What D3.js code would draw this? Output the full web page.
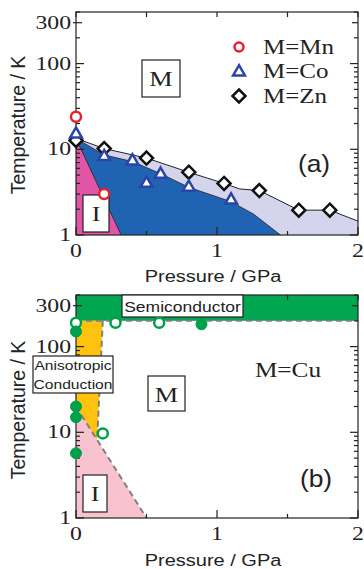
<!DOCTYPE html>
<html><head><meta charset="utf-8">
<script src="https://cdn.jsdelivr.net/npm/d3@7"></script>
<style>body{margin:0;background:#fff} svg{display:block}</style>
</head><body>
<svg id="c" width="364" height="569"></svg>
<script>
// ---------- data ----------
const pressureTicks = [0, 1, 2];
const pressureMinor = [0.5, 1.5];
const tempTickLabels = [1, 10, 100, 300];

// panel (a)
const mnData = [[0, 24], [0.2, 3.0]];
const coData = [[0, 15], [0.2, 8.2], [0.4, 7.3], [0.5, 4.0], [0.6, 5.1], [0.8, 3.6], [1.1, 2.55]];
const znData = [[0, 12.7], [0.2, 10.2], [0.5, 7.9], [0.8, 5.4], [1.05, 4.0], [1.3, 3.3], [1.58, 1.95], [1.8, 1.95]];
const znBoundary = [[0, 13.4], [0.2, 10.2], [0.5, 7.9], [0.8, 5.4], [1.05, 4.0], [1.16, 3.45], [1.3, 3.3], [1.58, 1.95], [1.8, 1.95], [2, 1.45]];
const coBoundary = [[0, 13.4], [0.2, 8.6], [0.4, 7.2], [0.6, 5.2], [0.8, 3.6], [1.1, 2.45], [1.26, 1.75], [1.45, 1]];
const mnBoundary = [[0, 13.4], [0.32, 1]];
const legendLabels = ["M=Mn", "M=Co", "M=Zn"];

// panel (b)
const cuOpen = [[0, 190], [0.28, 190], [0.59, 190], [0.19, 9.7]];
const cuFilled = [[0, 150], [0.89, 182], [0, 20], [0, 15], [0, 5.7]];
const semiconductorBand = [200, 400];
const anisotropicRegion = [[0, 200], [0.19, 200], [0.15, 8.1], [0, 20]];
const insulatorRegionB = [[0, 20], [0.5, 1], [0, 1]];
const anisoBoundary = [[0.19, 200], [0.15, 8.1]];
const insulatorBoundaryB = [[0, 20], [0.5, 1]];

// ---------- drawing ----------
const svg = d3.select("#c");
const SERIF = "'Liberation Serif','Times New Roman',serif";
const SANS = "'Liberation Sans',Arial,sans-serif";
const SX = 1.25;

function txt(g, x, y, s, o = {}) {
  return g.append("text")
    .attr("transform", `translate(${x},${y}) scale(${o.sx ?? SX},1)`)
    .attr("text-anchor", o.anchor || "start")
    .attr("font-family", o.family || SERIF)
    .attr("font-size", o.size || 19)
    .attr("fill", "#222")
    .text(s);
}

function makePanel(top, bottom) {
  const x = d3.scaleLinear().domain([0, 2]).range([76, 358]);
  const y = d3.scaleLog().domain([1, 400]).range([bottom, top]);
  return { x, y, g: svg.append("g") };
}

function frame(p, labelBase, titleBase, yCenter) {
  const { x, y, g } = p;
  const [x0, x1] = x.range();
  const [y0, y1] = y.range(); // bottom, top
  const ax = g.append("g").attr("stroke", "#222").attr("stroke-width", 1.2);
  ax.append("rect").attr("x", x0).attr("y", y1).attr("width", x1 - x0).attr("height", y0 - y1).attr("fill", "none");
  const minor = [];
  [1, 10, 100].forEach(d => { for (let k = 2; k <= 9; k++) if (d * k <= 400) minor.push(d * k); });
  minor.forEach(v => {
    const L = v === 300 ? 6 : 4;
    ax.append("line").attr("x1", x0).attr("x2", x0 + L).attr("y1", y(v)).attr("y2", y(v));
    ax.append("line").attr("x1", x1).attr("x2", x1 - L).attr("y1", y(v)).attr("y2", y(v));
  });
  [1, 10, 100].forEach(v => {
    ax.append("line").attr("x1", x0).attr("x2", x0 + 8).attr("y1", y(v)).attr("y2", y(v));
    ax.append("line").attr("x1", x1).attr("x2", x1 - 8).attr("y1", y(v)).attr("y2", y(v));
  });
  ax.append("line").attr("x1", x0 - 3).attr("x2", x0).attr("y1", y(300)).attr("y2", y(300));
  pressureTicks.forEach(v => {
    ax.append("line").attr("x1", x(v)).attr("x2", x(v)).attr("y1", y0).attr("y2", y0 - 8);
    ax.append("line").attr("x1", x(v)).attr("x2", x(v)).attr("y1", y1).attr("y2", y1 + 5);
  });
  pressureMinor.forEach(v => {
    ax.append("line").attr("x1", x(v)).attr("x2", x(v)).attr("y1", y0).attr("y2", y0 - 4);
    ax.append("line").attr("x1", x(v)).attr("x2", x(v)).attr("y1", y1).attr("y2", y1 + 5);
  });
  tempTickLabels.forEach(v => {
    txt(g, x0 - 5, y(v) + 6, String(v), { anchor: "end", size: 19 });
  });
  pressureTicks.forEach(v => {
    txt(g, x(v), labelBase, String(v), { anchor: "middle", size: 19 });
  });
  txt(g, 213, titleBase, "Pressure / GPa", { anchor: "middle", family: SANS, size: 16 });
  g.append("text")
    .attr("transform", `translate(25,${yCenter}) rotate(-90)`)
    .attr("text-anchor", "middle").attr("font-family", SANS).attr("font-size", 19.5).attr("fill", "#222")
    .text("Temperature / K");
}

function box(g, x0, y0, x1, y1) {
  g.append("rect").attr("x", x0).attr("y", y0).attr("width", x1 - x0).attr("height", y1 - y0)
    .attr("fill", "#fff").attr("stroke", "#222").attr("stroke-width", 1.2);
}

// ===== panel (a) =====
const A = makePanel(12, 235);
{
  const { x, y, g } = A;
  const area = pts => d3.line().x(d => x(d[0])).y(d => y(d[1]))(pts) + "Z";
  g.append("path").attr("d", area([...znBoundary, [2, 1], [0, 1]])).attr("fill", "#d4d4ec");
  g.append("path").attr("d", area([...coBoundary, [0, 1]])).attr("fill", "#2063b2");
  g.append("path").attr("d", area([...mnBoundary, [0, 1]])).attr("fill", "#e055a5");
  g.append("path").attr("d", d3.line().x(d => x(d[0])).y(d => y(d[1]))(znBoundary))
    .attr("fill", "none").attr("stroke", "#222").attr("stroke-width", 1);
  g.append("path").attr("d", d3.line().x(d => x(d[0])).y(d => y(d[1]))(coBoundary))
    .attr("fill", "none").attr("stroke", "#222").attr("stroke-width", 0.8);
  g.append("path").attr("d", d3.line().x(d => x(d[0])).y(d => y(d[1]))(mnBoundary))
    .attr("fill", "none").attr("stroke", "#222").attr("stroke-width", 0.8);
  frame(A, 257, 282, 125);
  box(g, 142, 60, 180, 97);
  txt(g, 161, 86, "M", { anchor: "middle", size: 21 });
  box(g, 83, 195, 109, 232);
  txt(g, 96, 221, "I", { anchor: "middle", size: 21 });
  const tri = d3.symbol().type(d3.symbolTriangle).size(60);
  const dia = "M0,-6.5L6.5,0L0,6.5L-6.5,0Z";
  g.selectAll(".zn").data(znData).join("path").attr("d", dia)
    .attr("transform", d => `translate(${x(d[0])},${y(d[1])})`)
    .attr("fill", "#fff").attr("stroke", "#111").attr("stroke-width", 2.5);
  g.selectAll(".co").data(coData).join("path").attr("d", tri)
    .attr("transform", d => `translate(${x(d[0])},${y(d[1])})`)
    .attr("fill", "#fff").attr("stroke", "#2a44a8").attr("stroke-width", 2.5);
  g.selectAll(".mn").data(mnData).join("circle").attr("r", 5)
    .attr("cx", d => x(d[0])).attr("cy", d => y(d[1]))
    .attr("fill", "#fff").attr("stroke", "#e8202a").attr("stroke-width", 2.5);
  const ly = [47, 71, 96];
  g.append("circle").attr("cx", 239).attr("cy", ly[0]).attr("r", 4.5).attr("fill", "#fff").attr("stroke", "#e8202a").attr("stroke-width", 2.5);
  g.append("path").attr("d", tri).attr("transform", `translate(239,${ly[1] + 1})`).attr("fill", "#fff").attr("stroke", "#2a44a8").attr("stroke-width", 2.5);
  g.append("path").attr("d", dia).attr("transform", `translate(239,${ly[2]})`).attr("fill", "#fff").attr("stroke", "#111").attr("stroke-width", 2.5);
  legendLabels.forEach((s, i) => txt(g, 263, ly[i] + 7, s, { size: 20 }));
  txt(g, 314, 172, "(a)", { anchor: "middle", family: SANS, size: 24, sx: 1.1 });
}

// ===== panel (b) =====
const B = makePanel(295, 518);
{
  const { x, y, g } = B;
  const area = pts => d3.line().x(d => x(d[0])).y(d => y(d[1]))(pts) + "Z";
  const ln = d3.line().x(d => x(d[0])).y(d => y(d[1]));
  g.append("rect").attr("x", x(0)).attr("y", y(semiconductorBand[1]))
    .attr("width", x(2) - x(0)).attr("height", y(semiconductorBand[0]) - y(semiconductorBand[1]))
    .attr("fill", "#00a650");
  g.append("path").attr("d", area(anisotropicRegion)).attr("fill", "#ffc20e");
  g.append("path").attr("d", area(insulatorRegionB)).attr("fill", "#f8c3cf");
  const dash = { stroke: "#808080", "stroke-width": 2, "stroke-dasharray": "6,4", fill: "none" };
  const dl = (pts) => { const p = g.append("path").attr("d", ln(pts)); Object.entries(dash).forEach(([k, v]) => p.attr(k, v)); };
  dl([[0, semiconductorBand[0]], [2, semiconductorBand[0]]]);
  dl(anisoBoundary);
  dl(insulatorBoundaryB);
  frame(B, 540, 566, 410);
  box(g, 122, 295, 243, 317);
  txt(g, 182.5, 312, "Semiconductor", { anchor: "middle", family: SANS, size: 14 });
  box(g, 33, 356, 113, 393);
  txt(g, 73, 370, "Anisotropic", { anchor: "middle", family: SANS, size: 12.5 });
  txt(g, 73, 389, "Conduction", { anchor: "middle", family: SANS, size: 12.5 });
  box(g, 148, 376, 185, 411);
  txt(g, 166.5, 402, "M", { anchor: "middle", size: 21 });
  txt(g, 288, 377, "M=Cu", { anchor: "middle", size: 22, sx: 1.15 });
  box(g, 83, 475, 107, 512);
  txt(g, 95, 501, "I", { anchor: "middle", size: 21 });
  txt(g, 316, 487, "(b)", { anchor: "middle", family: SANS, size: 24, sx: 1.1 });
  g.selectAll(".fo").data(cuOpen).join("circle").attr("r", 5)
    .attr("cx", d => x(d[0])).attr("cy", d => y(d[1]))
    .attr("fill", "#fff").attr("stroke", "#00a04a").attr("stroke-width", 2.5);
  g.selectAll(".ff").data(cuFilled).join("circle").attr("r", 5.5)
    .attr("cx", d => x(d[0])).attr("cy", d => y(d[1]))
    .attr("fill", "#00a04a").attr("stroke", "#00a04a").attr("stroke-width", 1);
}
</script>
</body></html>
